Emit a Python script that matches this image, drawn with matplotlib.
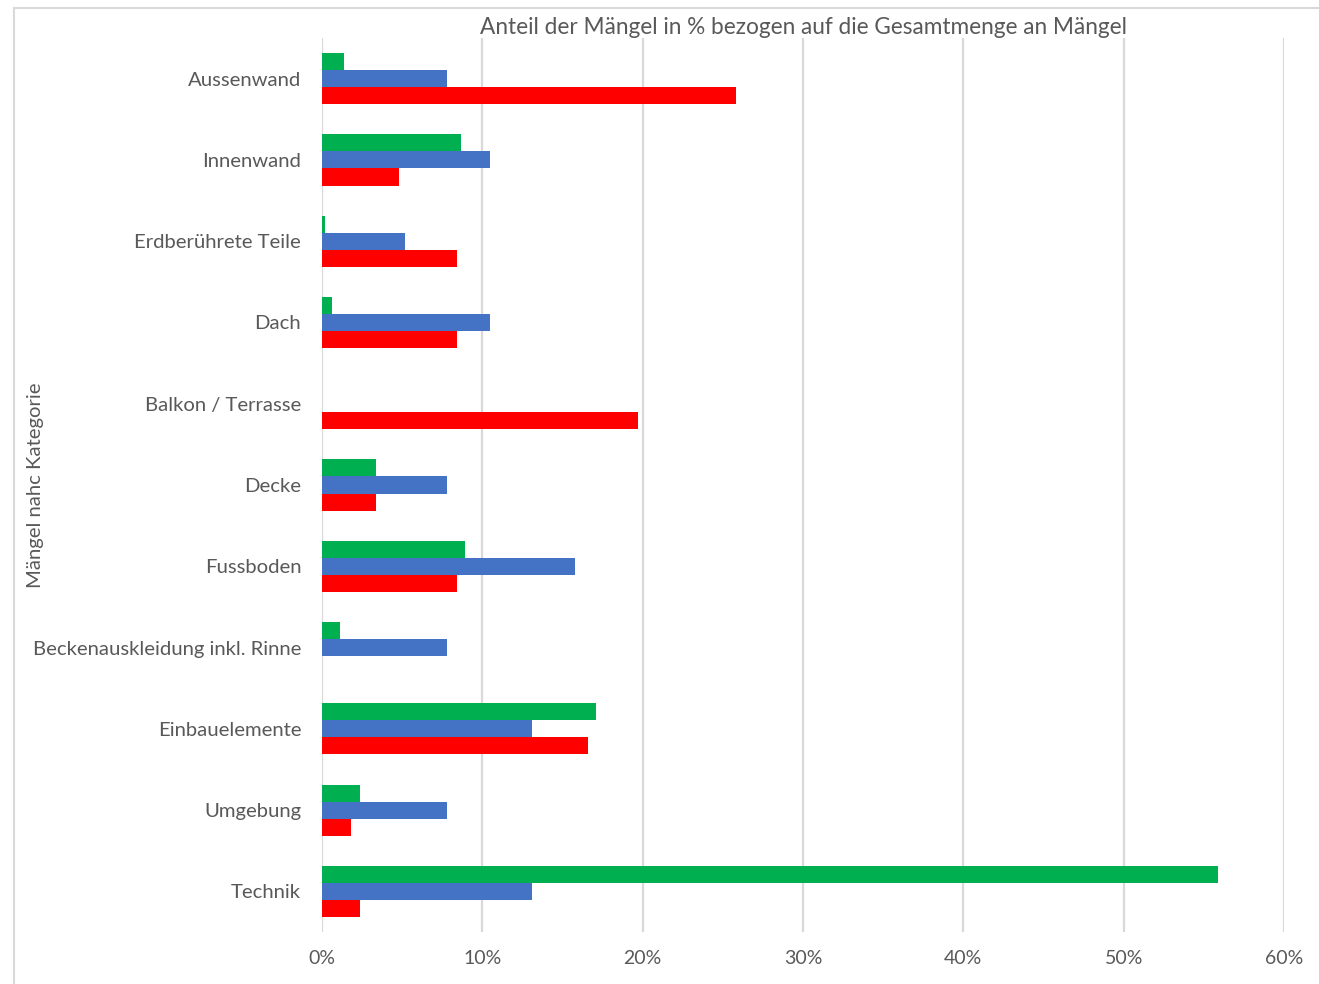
import numpy as np
import matplotlib.pyplot as plt
from matplotlib.lines import Line2D
from matplotlib.ticker import PercentFormatter

categories = ["Aussenwand", "Innenwand", "Erdberührete Teile", "Dach",
              "Balkon / Terrasse", "Decke", "Fussboden",
              "Beckenauskleidung inkl. Rinne", "Einbauelemente",
              "Umgebung", "Technik"]

# Werte in %
gruen = [1.4, 8.7, 0.2, 0.6, 0.0, 3.4, 8.9, 1.1, 17.1, 2.4, 55.9]
blau = [7.8, 10.5, 5.2, 10.5, 0.0, 7.8, 15.8, 7.8, 13.1, 7.8, 13.1]
rot = [25.8, 4.8, 8.4, 8.4, 19.7, 3.4, 8.4, 0.0, 16.6, 1.8, 2.4]

xticks = [0, 10, 20, 30, 40, 50, 60]

plt.rcParams['font.family'] = ['Lato', 'DejaVu Sans']
txt = '#595959'
grid_col = '#d9d9d9'

fig = plt.figure(figsize=(13.19, 9.84), dpi=100)
ax = fig.add_axes([0.2441, 0.0528, 0.7294, 0.9086])

y = np.arange(len(categories))
h = 0.21
ax.barh(y - h, gruen, height=h, color='#00B050')
ax.barh(y, blau, height=h, color='#4472C4')
ax.barh(y + h, rot, height=h, color='#FF0000')

ax.set_ylim(len(categories) - 0.5, -0.5)
ax.set_xlim(0, 60)
ax.set_xticks(xticks)
ax.xaxis.set_major_formatter(PercentFormatter(decimals=0))
ax.set_yticks(y)
ax.set_yticklabels(categories)

ax.grid(axis='x', color=grid_col, linewidth=1.6)
ax.set_axisbelow(True)
for s in ax.spines.values():
    s.set_visible(False)
ax.tick_params(axis='both', length=0, colors=txt)
ax.tick_params(axis='y', pad=15, labelsize=14.6)
ax.tick_params(axis='x', pad=13, labelsize=14)

ax.set_title("Anteil der Mängel in % bezogen auf die Gesamtmenge an Mängel",
             color=txt, fontsize=16.3, pad=-2)
fig.text(0.027, 0.507, "Mängel nahc Kategorie", rotation=90, color=txt,
         fontsize=14.6, ha='center', va='center')

# Rahmen links und oben
fig.add_artist(Line2D([14/1319, 14/1319], [0, 1 - 8/984], color=grid_col, lw=1.5))
fig.add_artist(Line2D([14/1319, 1], [1 - 8/984, 1 - 8/984], color=grid_col, lw=1.5))

fig.savefig('out.png', dpi=100)
